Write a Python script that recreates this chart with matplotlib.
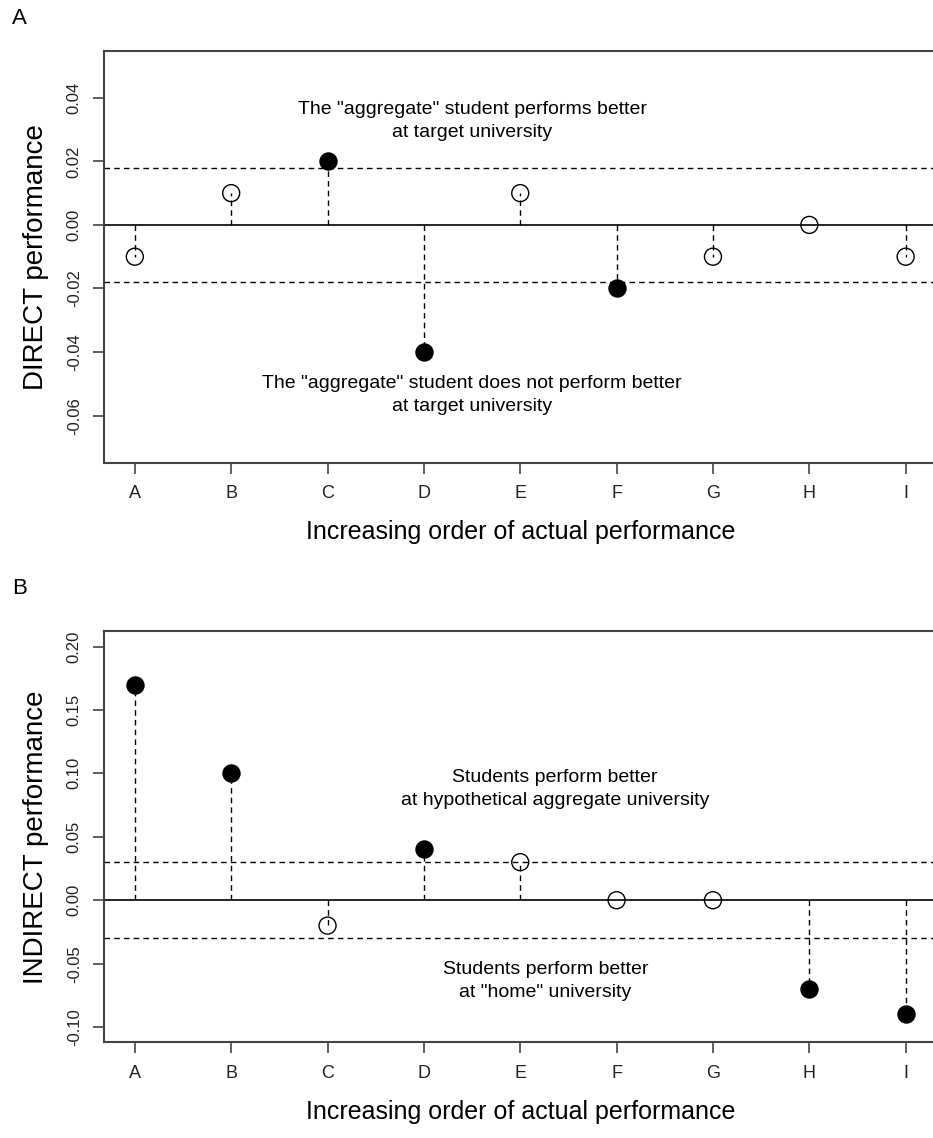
import numpy as np
import matplotlib
matplotlib.use("Agg")
import matplotlib.pyplot as plt

plt.rcParams["font.family"] = ["Liberation Sans", "DejaVu Sans"]

groups = ["A", "B", "C", "D", "E", "F", "G", "H", "I"]
direct = [-0.01, 0.01, 0.02, -0.04, 0.01, -0.02, -0.01, 0.00, -0.01]
direct_sig = [False, False, True, True, False, True, False, False, False]
indirect = [0.17, 0.10, -0.02, 0.04, 0.03, 0.00, 0.00, -0.07, -0.09]
indirect_sig = [True, True, False, True, False, False, False, True, True]
direct_cut = 0.018
indirect_cut = 0.03
direct_ticks = [-0.06, -0.04, -0.02, 0.00, 0.02, 0.04]
indirect_ticks = [-0.10, -0.05, 0.00, 0.05, 0.10, 0.15, 0.20]

W, H = 933, 1138
fig = plt.figure(figsize=(W / 100, H / 100), dpi=100)


def box(l, t, r, b):
    return [l / W, 1 - b / H, (r - l) / W, (b - t) / H]


def panel(ax, vals, sig, cut, ticks, ylim, ylabel, texts):
    x = np.arange(len(groups))
    ax.vlines(x, 0, vals, colors="black", linestyles=(0, (4, 3)), lw=1)
    ax.axhline(0, color="black", lw=1.2)
    for c in (cut, -cut):
        ax.axhline(c, color="black", lw=1, linestyle=(0, (4, 3)))
    vals = np.array(vals)
    sig = np.array(sig)
    ax.scatter(x[sig], vals[sig], s=150, color="black", zorder=3)
    ax.scatter(x[~sig], vals[~sig], s=150, facecolors="none",
               edgecolors="black", linewidths=1, zorder=3)
    ax.set_xlim(-0.32, len(groups) - 1 + 0.32)
    ax.set_ylim(*ylim)
    ax.set_xticks(x)
    ax.set_xticklabels(groups, fontsize=13, color="#222222")
    ax.set_yticks(ticks)
    ax.set_yticklabels(["%.2f" % t for t in ticks], fontsize=12,
                       rotation=90, va="center", color="#222222")
    ax.tick_params(length=8, width=1.2, color="#444444", pad=8)
    ax.set_ylabel(ylabel, fontsize=20, labelpad=13)
    ax.set_xlabel("Increasing order of actual performance", fontsize=18,
                  labelpad=13)
    for sp in ax.spines.values():
        sp.set_color("#444444")
        sp.set_linewidth(1.5)
    for tx, ty, s in texts:
        ax.text(tx, ty, s, ha="center", va="center", fontsize=14,
                linespacing=1.45)


ax1 = fig.add_axes(box(104, 50.7, 936.5, 462.7))
panel(ax1, direct, direct_sig, direct_cut, direct_ticks,
      (-0.0748, 0.0548), "DIRECT performance",
      [(3.5, 0.0327,
        'The "aggregate" student performs better\nat target university'),
       (3.5, -0.0536,
        'The "aggregate" student does not perform better\nat target university')])

ax2 = fig.add_axes(box(104, 631.3, 936.5, 1042.3))
panel(ax2, indirect, indirect_sig, indirect_cut, indirect_ticks,
      (-0.112, 0.212), "INDIRECT performance",
      [(4.36, 0.0876,
        "Students perform better\nat hypothetical aggregate university"),
       (4.26, -0.064,
        'Students perform better\nat "home" university')])

fig.text(12 / W, 1 - 18 / H, "A", fontsize=16, va="center", ha="left")
fig.text(12 / W, 1 - 588 / H, "B", fontsize=16, va="center", ha="left")

fig.savefig("out.png", dpi=100)
